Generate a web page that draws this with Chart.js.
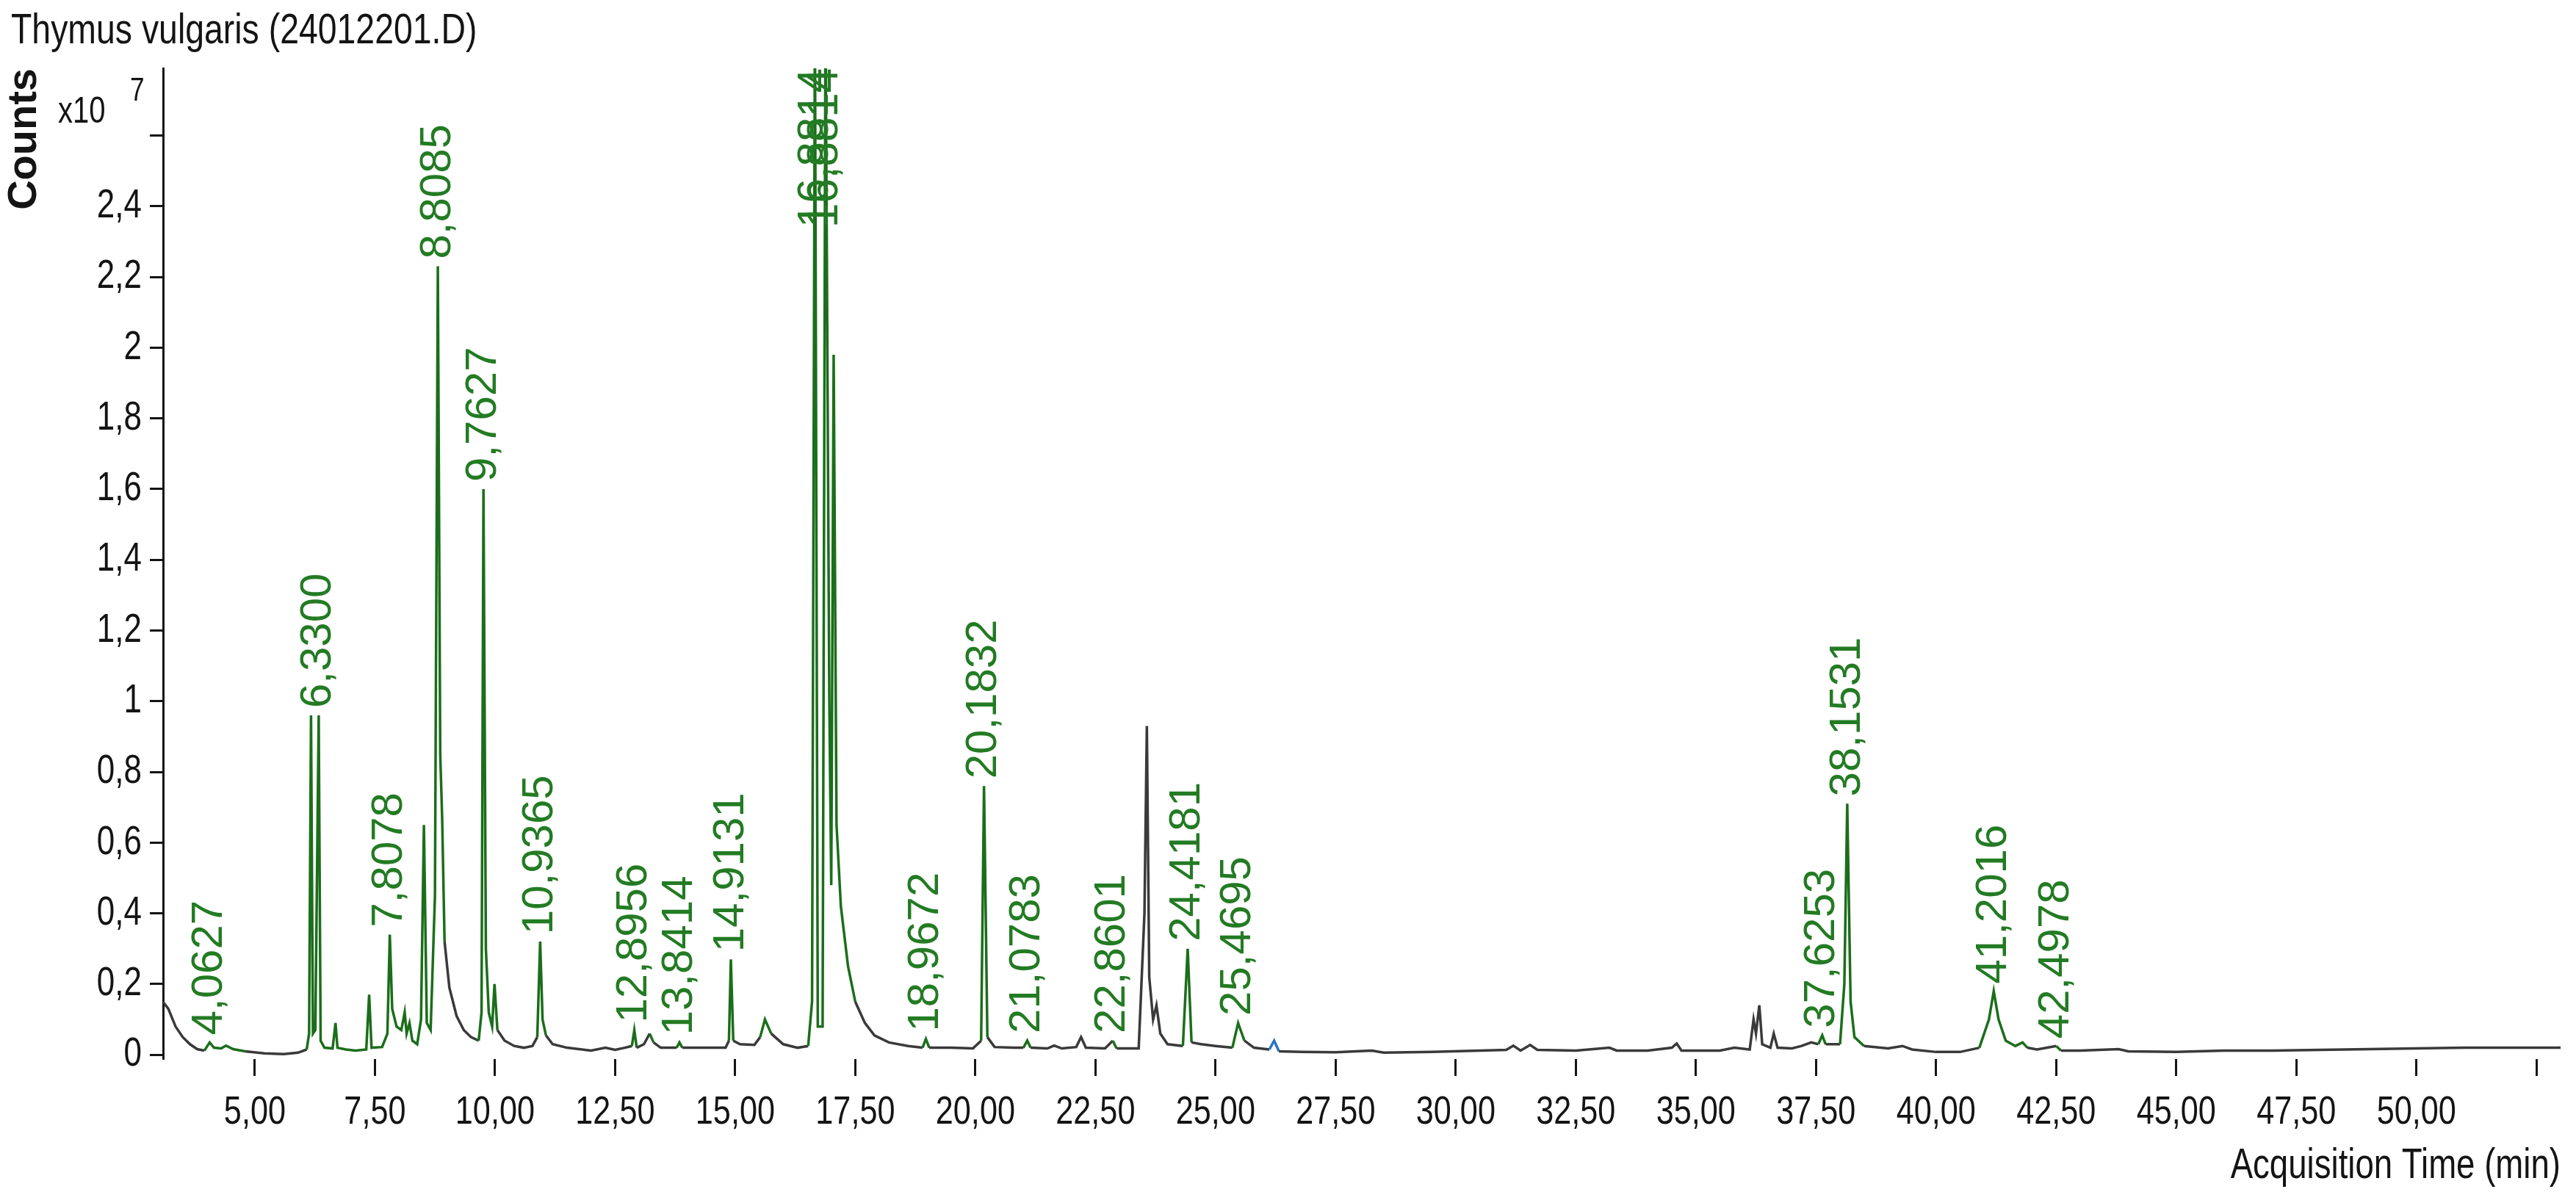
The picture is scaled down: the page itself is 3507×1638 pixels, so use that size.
<!DOCTYPE html>
<html>
<head>
<meta charset="utf-8">
<script src="https://cdn.jsdelivr.net/npm/chart.js@4.4.1/dist/chart.umd.min.js"></script>
<style>
  html, body { margin: 0; padding: 0; background: #fff; }
  #wrap { width: 3507px; height: 1638px; }
</style>
</head>
<body>
<div id="wrap"><canvas id="chrom"></canvas></div>
<script>
// TIC trace: retention time (min) and abundance (x10^7 counts)
const retentionTimes = [
  3.09, 3.20, 3.35, 3.50, 3.65, 3.80, 3.95, 4.06, 4.15, 4.30,
  4.40, 4.55, 4.80, 5.20, 5.60, 5.90, 6.08, 6.13, 6.17, 6.21,
  6.26, 6.33, 6.37, 6.45, 6.62, 6.68, 6.72, 6.90, 7.10, 7.32,
  7.38, 7.43, 7.65, 7.76, 7.81, 7.86, 7.95, 8.05, 8.12, 8.16,
  8.22, 8.28, 8.38, 8.46, 8.52, 8.58, 8.66, 8.75, 8.81, 8.86,
  8.90, 8.95, 9.05, 9.20, 9.35, 9.50, 9.66, 9.72, 9.76, 9.81,
  9.87, 9.94, 9.99, 10.05, 10.20, 10.40, 10.60, 10.78, 10.88, 10.94,
  10.99, 11.06, 11.20, 11.50, 12.00, 12.30, 12.50, 12.70, 12.85, 12.90,
  12.95, 13.10, 13.22, 13.30, 13.45, 13.78, 13.84, 13.90, 14.30, 14.80,
  14.87, 14.91, 14.96, 15.10, 15.40, 15.52, 15.62, 15.75, 16.00, 16.30,
  16.52, 16.60, 16.66, 16.72, 16.82, 16.88, 16.96, 17.00, 17.05, 17.11,
  17.20, 17.35, 17.50, 17.70, 17.90, 18.20, 18.60, 18.90, 18.97, 19.04,
  19.50, 19.95, 20.12, 20.18, 20.25, 20.40, 20.80, 21.00, 21.08, 21.15,
  21.50, 21.64, 21.80, 22.10, 22.20, 22.30, 22.70, 22.86, 22.94, 23.40,
  23.52, 23.57, 23.62, 23.70, 23.77, 23.85, 24.00, 24.32, 24.42, 24.50,
  24.70, 25.00, 25.35, 25.47, 25.60, 25.80, 26.12, 26.22, 26.32, 26.80,
  27.50, 28.25, 28.50, 29.50, 30.50, 31.05, 31.20, 31.35, 31.55, 31.70,
  32.50, 33.20, 33.35, 34.00, 34.50, 34.60, 34.70, 35.50, 35.80, 36.12,
  36.20, 36.25, 36.32, 36.38, 36.55, 36.62, 36.70, 37.00, 37.20, 37.40,
  37.55, 37.63, 37.70, 38.00, 38.09, 38.15, 38.22, 38.30, 38.50, 39.00,
  39.30, 39.50, 40.00, 40.50, 40.90, 41.10, 41.20, 41.30, 41.45, 41.65,
  41.80, 41.90, 42.10, 42.50, 42.60, 43.00, 43.80, 44.00, 45.00, 46.00,
  47.00, 48.00, 49.00, 50.00, 51.00, 52.00, 53.00
];
const abundance = [
  0.150, 0.130, 0.080, 0.050, 0.030, 0.016, 0.012, 0.035, 0.020, 0.018,
  0.026, 0.016, 0.010, 0.004, 0.002, 0.006, 0.015, 0.060, 0.960, 0.060,
  0.070, 0.960, 0.040, 0.020, 0.018, 0.090, 0.020, 0.015, 0.012, 0.015,
  0.170, 0.020, 0.022, 0.060, 0.340, 0.130, 0.080, 0.070, 0.120, 0.060,
  0.090, 0.040, 0.030, 0.100, 0.650, 0.090, 0.070, 0.450, 2.230, 0.850,
  0.670, 0.320, 0.190, 0.110, 0.070, 0.050, 0.040, 0.120, 1.600, 0.300,
  0.120, 0.080, 0.200, 0.070, 0.040, 0.025, 0.020, 0.025, 0.050, 0.320,
  0.100, 0.055, 0.030, 0.020, 0.012, 0.020, 0.014, 0.020, 0.025, 0.070,
  0.020, 0.030, 0.060, 0.035, 0.020, 0.020, 0.035, 0.020, 0.020, 0.020,
  0.040, 0.270, 0.040, 0.030, 0.028, 0.050, 0.100, 0.060, 0.030, 0.020,
  0.025, 0.150, 2.950, 0.080, 0.080, 2.950, 1.000, 0.480, 1.980, 0.650,
  0.420, 0.250, 0.150, 0.090, 0.055, 0.035, 0.025, 0.020, 0.045, 0.020,
  0.020, 0.018, 0.040, 0.760, 0.050, 0.022, 0.020, 0.020, 0.040, 0.020,
  0.018, 0.026, 0.018, 0.022, 0.050, 0.020, 0.018, 0.040, 0.018, 0.018,
  0.400, 0.930, 0.220, 0.100, 0.140, 0.060, 0.030, 0.025, 0.300, 0.035,
  0.030, 0.025, 0.020, 0.090, 0.040, 0.020, 0.015, 0.040, 0.010, 0.008,
  0.007, 0.012, 0.006, 0.008, 0.012, 0.014, 0.026, 0.012, 0.028, 0.014,
  0.012, 0.020, 0.012, 0.012, 0.020, 0.032, 0.012, 0.012, 0.020, 0.015,
  0.100, 0.060, 0.140, 0.030, 0.020, 0.060, 0.020, 0.018, 0.025, 0.035,
  0.030, 0.055, 0.030, 0.030, 0.200, 0.710, 0.150, 0.050, 0.025, 0.018,
  0.025, 0.015, 0.008, 0.008, 0.020, 0.100, 0.180, 0.100, 0.040, 0.025,
  0.035, 0.020, 0.015, 0.025, 0.012, 0.012, 0.016, 0.010, 0.008, 0.012,
  0.012, 0.014, 0.016, 0.018, 0.020, 0.020, 0.020
];

// integrated peak windows (min), drawn green; one blue window
const greenWindows = [
  [3.97, 4.70], [6.05, 8.95], [9.68, 10.08], [10.84, 11.10], [12.85, 12.97],
  [13.18, 13.32], [13.80, 13.88], [14.84, 14.99], [15.50, 15.80], [16.50, 17.45],
  [18.93, 19.02], [20.10, 20.30], [21.04, 21.13], [21.60, 21.68], [22.82, 22.92],
  [24.32, 24.52], [25.40, 25.62], [37.55, 37.70], [38.00, 38.40], [40.90, 41.85],
  [42.45, 42.55]
];
const blueWindows = [[26.12, 26.32]];

// peak annotations
const peakLabels = [
  '4,0627', '6,3300', '7,8078', '8,8085', '9,7627', '10,9365', '12,8956', '13,8414',
  '14,9131', '16,8814', '16,8814', '18,9672', '20,1832', '21,0783', '22,8601', '24,4181',
  '25,4695', '37,6253', '38,1531', '41,2016', '42,4978'
];
const peakLabelTimes = [
  4.0627, 6.33, 7.8078, 8.8085, 9.7627, 10.9365, 12.8956, 13.8414,
  14.9131, 16.68, 16.8814, 18.9672, 20.1832, 21.0783, 22.8601, 24.4181,
  25.4695, 37.6253, 38.1531, 41.2016, 42.4978
];

const xTickValues = [5, 7.5, 10, 12.5, 15, 17.5, 20, 22.5, 25, 27.5, 30, 32.5, 35, 37.5, 40, 42.5, 45, 47.5, 50, 52.5];
const xTickLabels = ['5,00', '7,50', '10,00', '12,50', '15,00', '17,50', '20,00', '22,50', '25,00', '27,50',
  '30,00', '32,50', '35,00', '37,50', '40,00', '42,50', '45,00', '47,50', '50,00', ''];
const yTickValues = [0, 0.2, 0.4, 0.6, 0.8, 1, 1.2, 1.4, 1.6, 1.8, 2, 2.2, 2.4, 2.6];
const yTickLabels = ['0', '0,2', '0,4', '0,6', '0,8', '1', '1,2', '1,4', '1,6', '1,8', '2', '2,2', '2,4', ''];

const GREEN = '#1b6e1b';
const LABEL_GREEN = '#237b23';
const BLUE = '#2a72c8';
const BASE = '#3a3a3a';
const INK = '#141414';
const NARROW = "'Liberation Sans Narrow', 'Arial Narrow', 'Liberation Sans', sans-serif";
const CONDENSE = 0.8;

function inWindows(t, wins) {
  return wins.some(w => t >= w[0] && t <= w[1]);
}

const ctx = document.getElementById('chrom').getContext('2d');

// no narrow face is installed, so squeeze any text set in the narrow family
const rawFillText = ctx.fillText;
ctx.fillText = function (text, x, y, maxWidth) {
  if (!this.font.includes('Narrow')) return rawFillText.call(this, text, x, y, maxWidth);
  this.save();
  this.translate(x, y);
  this.scale(CONDENSE, 1);
  if (maxWidth === undefined) rawFillText.call(this, text, 0, 0);
  else rawFillText.call(this, text, 0, 0, maxWidth / CONDENSE);
  this.restore();
};

const peakLabelPlugin = {
  id: 'peakLabels',
  afterDatasetsDraw(chart) {
    const c = chart.ctx;
    const xs = chart.scales.x, ys = chart.scales.y;
    c.save();
    c.font = "60px 'Liberation Sans', Arial, sans-serif";
    c.fillStyle = LABEL_GREEN;
    c.textBaseline = 'middle';
    c.textAlign = 'left';
    peakLabels.forEach((txt, i) => {
      const t = peakLabelTimes[i];
      let apex = 0;
      retentionTimes.forEach((rt, j) => {
        if (Math.abs(rt - t) <= 0.05) apex = Math.max(apex, abundance[j]);
      });
      const w = c.measureText(txt).width;
      let bottom = ys.getPixelForValue(apex) - 10;
      if (bottom - w < chart.chartArea.top) bottom = chart.chartArea.top + w;
      c.save();
      c.translate(xs.getPixelForValue(t), bottom);
      c.rotate(-Math.PI / 2);
      c.fillText(txt, 0, 0);
      c.restore();
    });
    c.restore();
  },
  afterDraw(chart) {
    // "x10^7" exponent note beside the y axis
    const c = chart.ctx;
    c.save();
    c.fillStyle = INK;
    c.textBaseline = 'alphabetic';
    c.textAlign = 'left';
    c.font = '50px ' + NARROW;
    c.fillText('x10', 79, 167);
    c.font = '44px ' + NARROW;
    c.fillText('7', 177, 137);
    c.restore();
  }
};

new Chart(ctx, {
  type: 'line',
  data: {
    datasets: [{
      data: retentionTimes.map((t, i) => ({ x: t, y: abundance[i] })),
      borderColor: BASE,
      borderWidth: 3.5,
      pointRadius: 0,
      tension: 0,
      segment: {
        borderColor: c => {
          const mid = (c.p0.parsed.x + c.p1.parsed.x) / 2;
          if (inWindows(mid, blueWindows)) return BLUE;
          if (inWindows(mid, greenWindows)) return GREEN;
          return BASE;
        }
      }
    }]
  },
  options: {
    responsive: true,
    maintainAspectRatio: false,
    animation: false,
    devicePixelRatio: 1,
    layout: { padding: { left: 15, right: 21, top: 0, bottom: 0 } },
    plugins: {
      legend: { display: false },
      tooltip: { enabled: false },
      title: {
        display: true,
        text: 'Thymus vulgaris (24012201.D)',
        align: 'start',
        color: INK,
        font: { family: NARROW, size: 58, weight: 'normal', lineHeight: 1 },
        padding: { top: 14, bottom: 21 }
      }
    },
    scales: {
      x: {
        type: 'linear',
        min: 3.09,
        max: 53,
        afterBuildTicks: s => { s.ticks = xTickValues.map(v => ({ value: v })); },
        afterFit: s => { s.height = 196; },
        ticks: {
          autoSkip: false,
          maxRotation: 0,
          padding: 18,
          color: INK,
          font: { family: NARROW, size: 54 },
          callback: (v, i) => xTickLabels[i]
        },
        grid: { display: true, drawOnChartArea: false, tickLength: 23, tickWidth: 3, tickColor: INK },
        border: { display: false },
        title: {
          display: true,
          text: 'Acquisition Time (min)',
          align: 'end',
          color: INK,
          font: { family: NARROW, size: 57, lineHeight: 1 },
          padding: { top: 0, bottom: 21 }
        }
      },
      y: {
        type: 'linear',
        min: -0.012,
        max: 2.79,
        afterBuildTicks: s => { s.ticks = yTickValues.map(v => ({ value: v })); },
        afterFit: s => { s.width = 207; },
        ticks: {
          autoSkip: false,
          padding: 11,
          color: INK,
          font: { family: NARROW, size: 55 },
          callback: (v, i) => yTickLabels[i]
        },
        grid: { display: true, drawOnChartArea: false, tickLength: 18, tickWidth: 3, tickColor: INK },
        border: { display: true, color: INK, width: 3 },
        title: {
          display: true,
          text: 'Counts',
          align: 'end',
          color: INK,
          font: { family: "'Liberation Sans', Arial, sans-serif", size: 56, weight: 'bold', lineHeight: 0.65 },
          padding: { top: 0, bottom: 0 }
        }
      }
    }
  },
  plugins: [peakLabelPlugin]
});
</script>
</body>
</html>
